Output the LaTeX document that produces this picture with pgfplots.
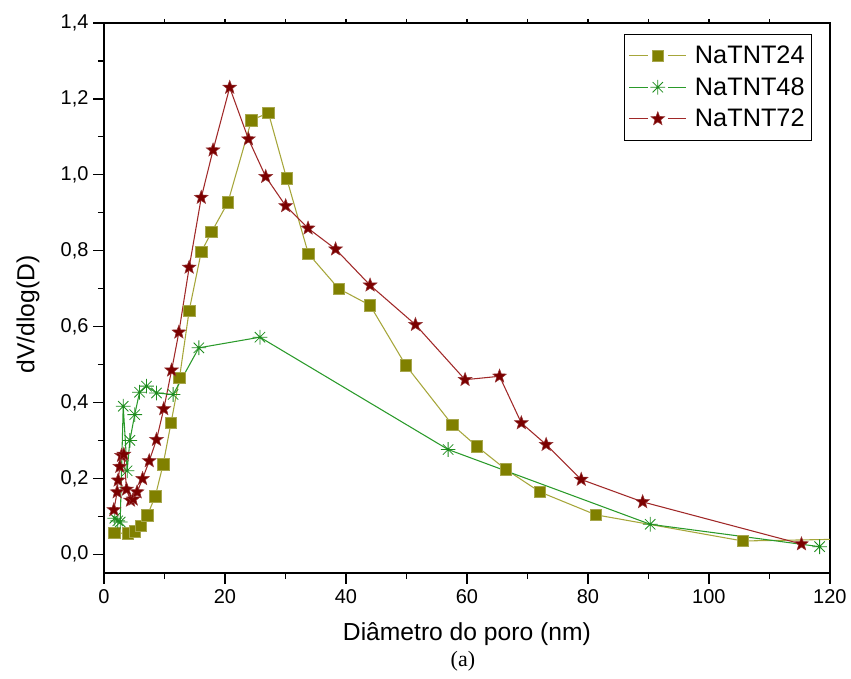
\documentclass[border=0pt]{standalone}
\usepackage{pgfplots}
\pgfplotsset{compat=1.18}
\usepackage{fontspec}
\setmainfont{Liberation Sans}
\newfontfamily\serifa{Liberation Serif}
\usetikzlibrary{plotmarks}

\pgfdeclareplotmark{ast8}{%
 \pgfpathmoveto{\pgfqpoint{0pt}{\pgfplotmarksize}}\pgfpathlineto{\pgfqpoint{0pt}{-\pgfplotmarksize}}%
 \pgfpathmoveto{\pgfqpoint{\pgfplotmarksize}{0pt}}\pgfpathlineto{\pgfqpoint{-\pgfplotmarksize}{0pt}}%
 \pgfpathmoveto{\pgfqpointpolar{45}{\pgfplotmarksize}}\pgfpathlineto{\pgfqpointpolar{225}{\pgfplotmarksize}}%
 \pgfpathmoveto{\pgfqpointpolar{135}{\pgfplotmarksize}}\pgfpathlineto{\pgfqpointpolar{315}{\pgfplotmarksize}}%
 \pgfusepathqstroke}

\pgfdeclareplotmark{fstar}{%
 \pgfpathmoveto{\pgfqpointpolar{90}{\pgfplotmarksize}}%
 \pgfpathlineto{\pgfqpointpolar{126}{0.42\pgfplotmarksize}}%
 \pgfpathlineto{\pgfqpointpolar{162}{\pgfplotmarksize}}%
 \pgfpathlineto{\pgfqpointpolar{198}{0.42\pgfplotmarksize}}%
 \pgfpathlineto{\pgfqpointpolar{234}{\pgfplotmarksize}}%
 \pgfpathlineto{\pgfqpointpolar{270}{0.42\pgfplotmarksize}}%
 \pgfpathlineto{\pgfqpointpolar{306}{\pgfplotmarksize}}%
 \pgfpathlineto{\pgfqpointpolar{342}{0.42\pgfplotmarksize}}%
 \pgfpathlineto{\pgfqpointpolar{18}{\pgfplotmarksize}}%
 \pgfpathlineto{\pgfqpointpolar{54}{0.42\pgfplotmarksize}}%
 \pgfpathclose
 \pgfusepathqfillstroke}

\definecolor{olivem}{HTML}{808000}
\definecolor{olivel}{HTML}{A6A63A}
\definecolor{greenm}{HTML}{1E8C1E}
\definecolor{greenl}{HTML}{2A9A2A}
\definecolor{redm}{HTML}{7B0000}
\definecolor{redl}{HTML}{A02828}

\pgfplotstableread{
x y
1.7 0.056
4.0 0.055
5.1 0.061
6.1 0.075
7.2 0.103
8.5 0.153
9.8 0.237
11.1 0.346
12.5 0.465
14.1 0.642
16.1 0.797
17.8 0.849
20.5 0.927
24.4 1.144
27.2 1.163
30.2 0.991
33.8 0.792
38.8 0.700
44.0 0.656
49.9 0.498
57.6 0.341
61.6 0.285
66.4 0.224
72.1 0.164
81.3 0.104
105.6 0.035
130 0.042
}\tA

\pgfplotstableread{
x y
1.8 0.095
2.3 0.088
2.7 0.085
3.2 0.390
3.85 0.220
4.3 0.300
5.1 0.368
5.9 0.427
7.05 0.443
8.7 0.425
11.45 0.421
15.7 0.544
25.8 0.572
56.9 0.276
90.3 0.079
118.3 0.020
}\tB

\pgfplotstableread{
x y
1.65 0.117
2.2 0.164
2.36 0.195
2.64 0.231
2.92 0.260
3.3 0.263
3.75 0.171
4.4 0.142
4.85 0.145
5.5 0.164
6.4 0.199
7.5 0.246
8.7 0.302
9.9 0.383
11.2 0.485
12.4 0.585
14.1 0.756
16.1 0.940
18.05 1.065
20.8 1.230
23.9 1.094
26.75 0.995
30.05 0.918
33.75 0.859
38.3 0.804
44.0 0.709
51.5 0.605
59.7 0.460
65.4 0.469
69.0 0.346
73.1 0.289
78.9 0.197
89.05 0.138
115.3 0.027
}\tC

\begin{document}
\begin{tikzpicture}
\begin{axis}[
  name=main,
  width=545.25pt, height=413.25pt, scale only axis,
  xmin=0, xmax=120, ymin=-0.05, ymax=1.4,
  xtick={0,20,40,60,80,100,120},
  minor xtick={10,30,50,70,90,110},
  ytick={0,0.2,0.4,0.6,0.8,1.0,1.2,1.4},
  minor ytick={0.1,0.3,0.5,0.7,0.9,1.1,1.3},
  xtick pos=left, ytick pos=left, tick align=outside,
  major tick length=8pt, minor tick length=4.5pt,
  every tick/.style={black, line width=1pt},
  axis line style={line width=1.2pt},
  /pgf/number format/assume math mode=true,
  tick label style={font=\fontsize{15}{18}\selectfont},
  y tick label style={/pgf/number format/.cd, use comma, fixed, fixed zerofill, precision=1},
  x tick label style={yshift=-1pt},
  xlabel={Diâmetro do poro (nm)},
  ylabel={dV/dlog(D)},
  every axis x label/.style={at={(axis description cs:0.5,0)}, yshift=-46pt, anchor=center, font=\fontsize{18.5}{21}\selectfont},
  every axis y label/.style={at={(axis description cs:0,0.47)}, xshift=-57pt, rotate=90, anchor=center, font=\fontsize{18.5}{21}\selectfont},
  legend style={at={(rel axis cs:0.975,0.98)}, anchor=north east, draw=black, line width=0.7pt,
    font=\fontsize{19}{22}\selectfont, inner xsep=3pt, inner ysep=6.5pt,
    row sep=5pt, nodes={inner sep=2pt}},
  legend cell align=left,
  legend image code/.code={%
    \draw[#1] (0pt,0pt) -- (14pt,0pt);
    \draw[#1] (29pt,0pt) -- (43pt,0pt);
    \draw[only marks,#1] plot coordinates {(21.5pt,0pt)};
    \path (47pt,0pt);},
]
\addplot[color=olivel, line width=0.8pt, mark=square*, mark size=4.3pt,
  mark options={solid, fill=olivem, draw=olivem!70!white, line width=0.5pt}] table[x=x,y=y] {\tA};
\addlegendentry{NaTNT24}
\addplot[color=greenl, line width=0.8pt, mark=ast8, mark size=5.5pt,
  mark options={solid, draw=greenm, line width=0.6pt}] table[x=x,y=y] {\tB};
\addlegendentry{NaTNT48}
\addplot[color=redl, line width=0.8pt, mark=fstar, mark size=5.4pt,
  mark options={solid, fill=redm, draw=redm!80!white, line width=0.4pt}] table[x=x,y=y] {\tC};
\addlegendentry{NaTNT72}
\end{axis}
\begin{axis}[
  width=545.25pt, height=413.25pt, scale only axis,
  xmin=0, xmax=120, ymin=-0.05, ymax=1.4,
  axis line style={draw=none},
  xtick={10,20,...,110}, ytick=\empty,
  xtick pos=right, tick align=outside, major tick length=3pt,
  every tick/.style={black, line width=1pt},
  xticklabels={},
]
\end{axis}
\node[font=\serifa\fontsize{16.5}{19}\selectfont, anchor=center] at ([xshift=-3pt,yshift=-66pt]main.south) {(a)};
\path (main.south west) ++(-78pt,-78.75pt) rectangle ([xshift=15pt,yshift=17.25pt]main.north east);
\end{tikzpicture}
\end{document}
